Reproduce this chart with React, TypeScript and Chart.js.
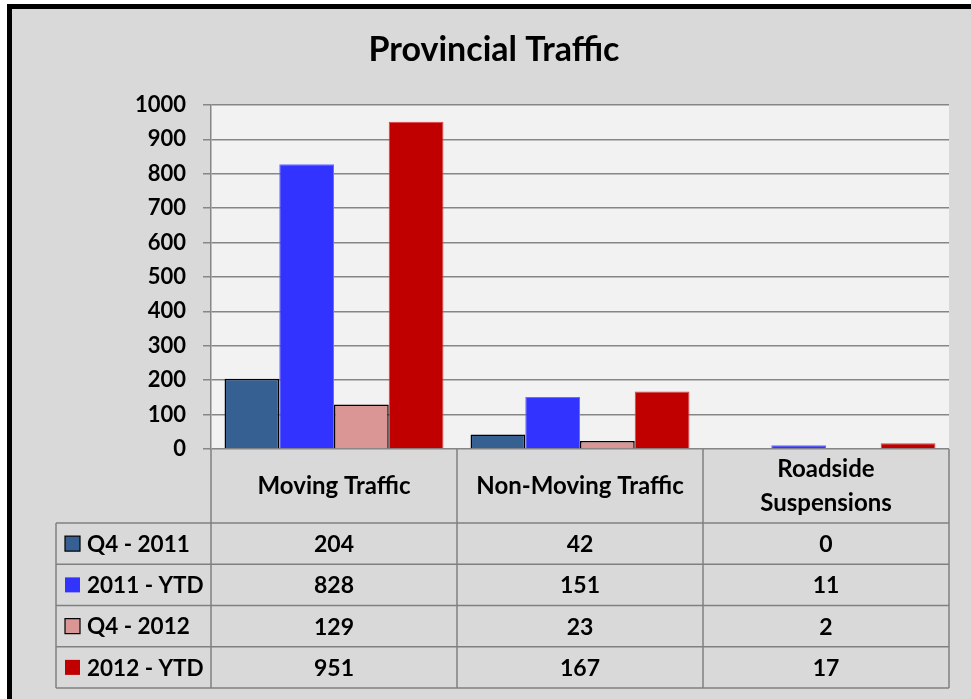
import React, { useEffect, useRef } from "react";
import { Chart, registerables } from "chart.js";

Chart.register(...registerables);

const categories = ["Moving Traffic", "Non-Moving Traffic", "Roadside Suspensions"];
const categoryLines = [["Moving Traffic"], ["Non-Moving Traffic"], ["Roadside", "Suspensions"]];
const seriesNames = ["Q4 - 2011", "2011 - YTD", "Q4 - 2012", "2012 - YTD"];
const q4_2011 = [204, 42, 0];
const ytd_2011 = [828, 151, 11];
const q4_2012 = [129, 23, 2];
const ytd_2012 = [951, 167, 17];
const yTicks = [0, 100, 200, 300, 400, 500, 600, 700, 800, 900, 1000];

const fills = ["#376092", "#3333ff", "#d99694", "#c00000"];
const borders = ["#000000", "#6b6bff", "#000000", "#e04040"];
const borderWidths = [1.5, 1, 1.5, 1];
const allSeries = [q4_2011, ytd_2011, q4_2012, ytd_2012];

const FONT = "Lato, 'DejaVu Sans', sans-serif";
const W = "bold";

export default function App() {
  const ref = useRef<HTMLCanvasElement | null>(null);
  useEffect(() => {
    document.body.style.margin = "0";
    const canvas = ref.current!;
    const framePlugin = {
      id: "frame",
      beforeDraw(chart: any) {
        const { ctx, width, height, chartArea } = chart;
        ctx.save();
        ctx.fillStyle = "#ffffff";
        ctx.fillRect(0, 0, width, height);
        ctx.fillStyle = "#000000";
        ctx.fillRect(7, 4, width - 7, height - 4);
        ctx.fillStyle = "#d9d9d9";
        ctx.fillRect(12, 9, width - 12, height - 9);
        ctx.fillStyle = "#f2f2f2";
        ctx.fillRect(chartArea.left, chartArea.top, chartArea.right - chartArea.left, chartArea.bottom - chartArea.top);
        ctx.fillStyle = "#000000";
        ctx.font = `${W} 34px ${FONT}`;
        ctx.textAlign = "center";
        ctx.textBaseline = "middle";
        ctx.fillText("Provincial Traffic", 494, 50);
        ctx.restore();
      },
      afterDraw(chart: any) {
        const { ctx, chartArea } = chart;
        const xs = chart.scales.x;
        const n = categories.length;
        const cw = (chartArea.right - chartArea.left) / n;
        const bounds: number[] = [];
        for (let i = 0; i < n; i++) bounds.push(xs.getPixelForValue(i) - cw / 2);
        bounds.push(xs.getPixelForValue(n - 1) + cw / 2);
        const top = chartArea.bottom;
        const headerBottom = 523;
        const rowH = 41.25;
        const tableBottom = headerBottom + rowH * seriesNames.length;
        const legendLeft = 56;
        ctx.save();
        ctx.strokeStyle = "#808080";
        ctx.lineWidth = 1.5;
        ctx.beginPath();
        bounds.forEach((bx) => {
          ctx.moveTo(bx, top);
          ctx.lineTo(bx, tableBottom);
        });
        ctx.moveTo(legendLeft, headerBottom);
        ctx.lineTo(legendLeft, tableBottom);
        for (let r = 0; r <= seriesNames.length; r++) {
          const y = headerBottom + r * rowH;
          ctx.moveTo(legendLeft, y);
          ctx.lineTo(bounds[n], y);
        }
        ctx.stroke();

        ctx.fillStyle = "#000000";
        ctx.font = `${W} 24px ${FONT}`;
        ctx.textAlign = "center";
        ctx.textBaseline = "middle";
        const hc = (top + headerBottom) / 2;
        categoryLines.forEach((lines, i) => {
          const cx = xs.getPixelForValue(i);
          const lh = 34;
          lines.forEach((l, k) => {
            ctx.fillText(l, cx, hc + (k - (lines.length - 1) / 2) * lh);
          });
        });
        seriesNames.forEach((name, r) => {
          const cy = headerBottom + r * rowH + rowH / 2;
          ctx.fillStyle = fills[r];
          ctx.fillRect(65, cy - 7.5, 15, 15);
          if (borders[r] === "#000000") {
            ctx.strokeStyle = "#000000";
            ctx.lineWidth = 1.2;
            ctx.strokeRect(65, cy - 7.5, 15, 15);
          }
          ctx.fillStyle = "#000000";
          ctx.textAlign = "left";
          ctx.font = `${W} 22.5px ${FONT}`;
          ctx.fillText(name, 87, cy + 1);
          ctx.textAlign = "center";
          ctx.font = `${W} 23px ${FONT}`;
          allSeries[r].forEach((v, i) => {
            ctx.fillText(String(v), xs.getPixelForValue(i), cy + 1);
          });
        });
        ctx.restore();
      },
    };
    const chart = new Chart(canvas, {
      type: "bar",
      data: {
        labels: categories,
        datasets: seriesNames.map((name, i) => ({
          label: name,
          data: allSeries[i],
          backgroundColor: fills[i],
          borderColor: borders[i],
          borderWidth: borderWidths[i],
          categoryPercentage: 0.89,
          barPercentage: 1,
        })),
      },
      options: {
        responsive: false,
        animation: false,
        layout: { padding: { top: 105, bottom: 250, right: 22, left: 0 } },
        plugins: { legend: { display: false }, title: { display: false }, tooltip: { enabled: false } },
        scales: {
          x: { display: false },
          y: {
            min: 0,
            max: 1000,
            afterBuildTicks(scale: any) {
              scale.ticks = yTicks.map((v) => ({ value: v }));
            },
            afterFit(scale: any) {
              scale.width = 211;
            },
            grid: { color: "#868686", lineWidth: 1.5, tickLength: 8 },
            border: { color: "#868686", width: 1.5 },
            ticks: {
              color: "#000000",
              padding: 17,
              callback: (v: any) => String(v),
              font: { family: FONT, weight: W, size: 22 },
            },
          },
        },
      },
      plugins: [framePlugin],
    });
    return () => chart.destroy();
  }, []);
  return (
    <div style={{ width: 971, height: 699 }}>
      <canvas ref={ref} width={971} height={699} style={{ display: "block" }} />
    </div>
  );
}
